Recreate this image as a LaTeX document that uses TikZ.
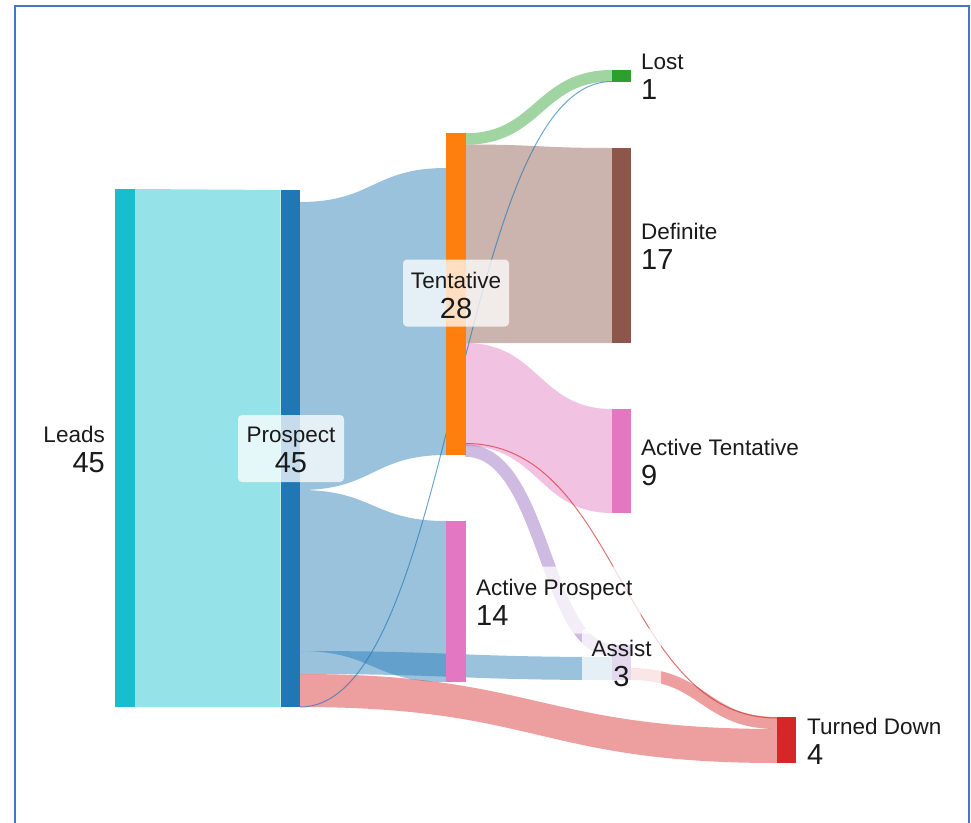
\documentclass[tikz,border=0pt]{standalone}
\usepackage{fontspec}
\setmainfont{Liberation Sans}
\usetikzlibrary{calc}
\definecolor{cLeads}{HTML}{17BECF}
\definecolor{cProsp}{HTML}{1F77B4}
\definecolor{cTent}{HTML}{FF7F0E}
\definecolor{cLost}{HTML}{2CA02C}
\definecolor{cDef}{HTML}{8C564B}
\definecolor{cPink}{HTML}{E377C2}
\definecolor{cAssist}{HTML}{9467BD}
\definecolor{cTD}{HTML}{D62728}
\definecolor{cFrame}{HTML}{4674C6}
\definecolor{txt}{HTML}{1A1A1A}
\tikzset{
  bar/.style={inner sep=0pt, outer sep=0pt, draw=none, minimum width=19.5pt},
  band/.style={fill=#1, fill opacity=0.45},
  pipe/.style={draw=#1, draw opacity=0.45, line cap=butt},
  thin/.style={draw=#1, draw opacity=0.65, line width=1pt},
  lbg/.style={fill=white, fill opacity=0.75, rounded corners=4pt, inner sep=0pt, draw=none},
  nm/.style={inner sep=0pt, font=\fontsize{22.5}{27}\selectfont, text=txt},
  num/.style={inner sep=0pt, font=\fontsize{29}{34}\selectfont, text=txt}
}
% band from source node (east side) to target node (west side); y values in px
\newcommand{\sklink}[7]{%
  \fill[band=#1] let \p1=(#2.east), \p2=(#5.west), \n1={0.5*\x1+0.5*\x2} in
  (\x1,-#3pt) .. controls (\n1,-#3pt) and (\n1,-#6pt) .. (\x2,-#6pt)
  -- (\x2,-#7pt) .. controls (\n1,-#7pt) and (\n1,-#4pt) .. (\x1,-#4pt) -- cycle;}
% constant-width link: colour, source, y, target, y, width, control x shift
\newcommand{\skpipe}[7]{%
  \draw[pipe=#1, line width=#6pt] let \p1=(#2.east), \p2=(#4.west), \n1={0.5*\x1+0.5*\x2+#7pt} in
  (\x1,-#3pt) .. controls (\n1,-#3pt) and (\n1,-#5pt) .. (\x2,-#5pt);}
\newcommand{\skline}[5]{%
  \draw[thin=#1] let \p1=(#2.east), \p2=(#4.west), \n1={0.5*\x1+0.5*\x2} in
  (\x1,-#3pt) .. controls (\n1,-#3pt) and (\n1,-#5pt) .. (\x2,-#5pt);}
\begin{document}
\begin{tikzpicture}[x=1pt,y=-1pt]
\useasboundingbox (0,0) rectangle (971,822);
\clip (0,0) rectangle (971,822);

% nodes (bars) -- placed first so links can refer to them; filled on top
\path
 node[bar, minimum width=20pt, minimum height=518pt] (leads) at (125,448) {}
 node[bar, minimum height=517pt] (prospect) at (290.25,448.5) {}
 node[bar, minimum height=322pt] (tent) at (455.75,294) {}
 node[bar, minimum height=161pt] (actp) at (455.75,601.5) {}
 node[bar, minimum width=19pt, minimum height=11.5pt] (lost) at (621.5,75.75) {}
 node[bar, minimum width=19pt, minimum height=195pt] (defi) at (621.5,245.5) {}
 node[bar, minimum width=19pt, minimum height=104pt] (actt) at (621.5,461) {}
 node[bar, minimum width=19pt, minimum height=35pt] (assist) at (621.5,662.5) {}
 node[bar, minimum width=19pt, minimum height=46pt] (td) at (786.5,740) {};

% links
\sklink{cLeads}{leads}{189}{707}{prospect}{190}{707}
\sklink{cProsp}{prospect}{202}{490}{tent}{168}{455}
\sklink{cProsp}{prospect}{490}{651}{actp}{521}{682}
\sklink{cProsp}{prospect}{651}{674}{assist}{657}{680}
\sklink{cTD}{prospect}{674}{707}{td}{729}{763}
\skpipe{cLost}{tent}{139}{lost}{75.75}{11.5}{0}
\sklink{cDef}{tent}{144.5}{343}{defi}{148}{343}
\sklink{cPink}{tent}{343}{446}{actt}{409}{513}
\skpipe{cAssist}{tent}{450.5}{assist}{650}{12.5}{6}
\skpipe{cTD}{assist}{674}{td}{723}{12}{0}
\skline{cProsp}{prospect}{707}{lost}{81.5}
\skline{cTD}{tent}{443.5}{td}{718}

% node bars
\fill[cLeads] (leads.north west) rectangle (leads.south east);
\fill[cProsp] (prospect.north west) rectangle (prospect.south east);
\fill[cTent] (tent.north west) rectangle (tent.south east);
\fill[cPink] (actp.north west) rectangle (actp.south east);
\fill[cLost] (lost.north west) rectangle (lost.south east);
\fill[cDef] (defi.north west) rectangle (defi.south east);
\fill[cPink] (actt.north west) rectangle (actt.south east);
\fill[cAssist] (assist.north west) rectangle (assist.south east);
\fill[cTD] (td.north west) rectangle (td.south east);

% label backgrounds
\node[lbg, minimum width=106pt, minimum height=67pt] (prospbg) at (291,448.5) {};
\node[lbg, minimum width=106pt, minimum height=67pt] (tentbg) at (456,293) {};
\node[lbg, minimum width=171pt, minimum height=67pt] (actpbg) at (555,600) {};
\node[lbg, minimum width=79pt, minimum height=67pt] (assistbg) at (621.5,662) {};

% labels
\node[nm, anchor=base east] (leadsN) at (105,442) {Leads};
\node[num, anchor=base east] (leadsV) at (105,472) {45};
\node[nm, anchor=base] (prospN) at (291,442.5) {Prospect};
\node[num, anchor=base] (prospV) at (291,472.5) {45};
\node[nm, anchor=base] (tentN) at (456,288) {Tentative};
\node[num, anchor=base] (tentV) at (456,318) {28};
\node[nm, anchor=base west] (actpN) at (476,595.5) {Active Prospect};
\node[num, anchor=base west] (actpV) at (476,625.5) {14};
\node[nm, anchor=base west] (lostN) at (641,69.5) {Lost};
\node[num, anchor=base west] (lostV) at (641,99.5) {1};
\node[nm, anchor=base west] (defN) at (641,239.5) {Definite};
\node[num, anchor=base west] (defV) at (641,269.5) {17};
\node[nm, anchor=base west] (acttN) at (641,455) {Active Tentative};
\node[num, anchor=base west] (acttV) at (641,485) {9};
\node[nm, anchor=base] (assistN) at (621.5,656.5) {Assist};
\node[num, anchor=base] (assistV) at (621.5,686.5) {3};
\node[nm, anchor=base west] (tdN) at (807,734) {Turned Down};
\node[num, anchor=base west] (tdV) at (807,764) {4};

% frame
\draw[cFrame, line width=2pt] (15,6) rectangle (968.5,900);
\end{tikzpicture}
\end{document}
